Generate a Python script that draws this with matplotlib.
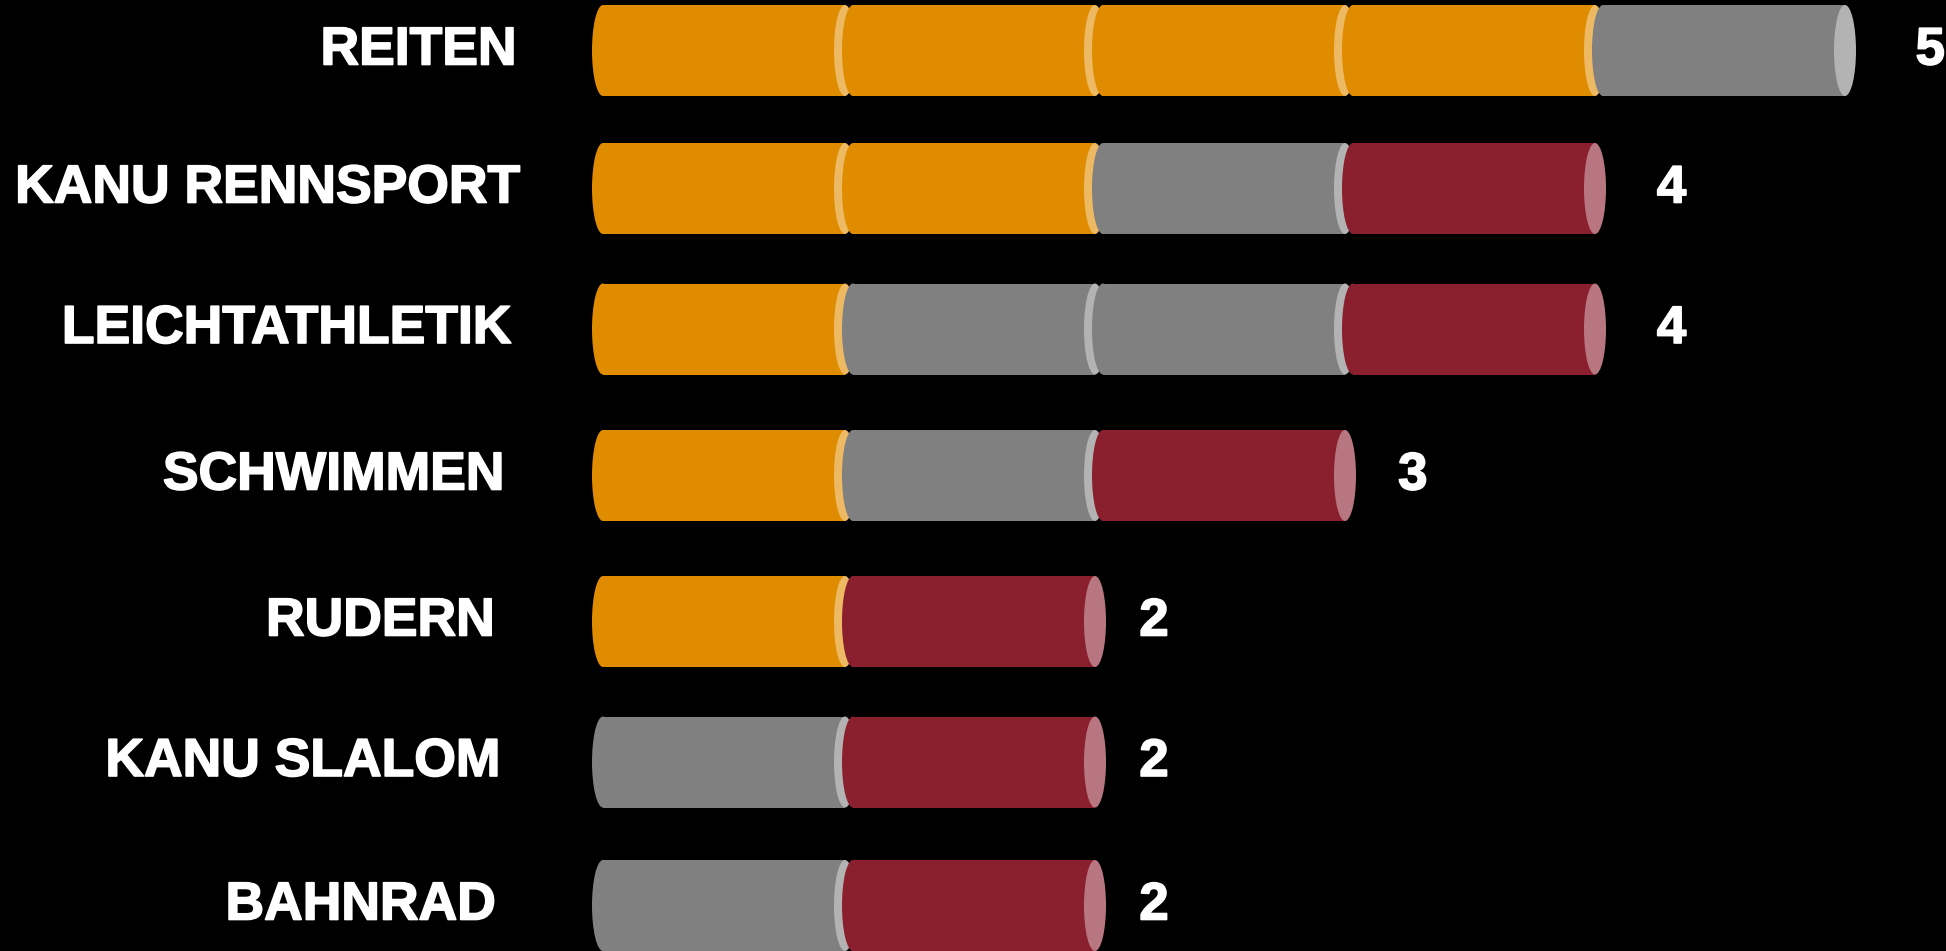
import matplotlib
matplotlib.use("Agg")
import matplotlib.pyplot as plt
from matplotlib.patches import Rectangle, Ellipse
import matplotlib.patheffects as pe

#dados
sportarten = ['REITEN', 'KANU RENNSPORT', 'LEICHTATHLETIK', 'SCHWIMMEN',
              'RUDERN', 'KANU SLALOM', 'BAHNRAD']
gold = [4, 2, 1, 1, 1, 0, 0]
silber = [1, 1, 2, 1, 0, 1, 1]
bronze = [0, 1, 1, 1, 1, 1, 1]

#layout: centro de cada linha e borda direita dos rotulos (pixels)
linha_px = [50.5, 188.5, 329, 475.5, 621.5, 762, 905.5]
rotulo_px = [517, 521, 512, 505, 495, 501, 496]

#cores (corpo, tampa)
farben = {
    'gold': ('#df8c00', '#edb963'),
    'silber': ('#808080', '#b3b3b3'),
    'bronze': ('#8a1f2e', '#b87780'),
}

#figura
fig = plt.figure(figsize=(19.46, 9.51), dpi=100, facecolor='black')
ax = fig.add_axes([0, 0, 1, 1])
ax.set_facecolor('black')
ax.axis('off')
ax.set_xlim(-2.412, 5.372)
ax.set_ylim(951, 0)

hoehe = 91       # altura da barra
laenge = 0.968   # comprimento de cada cilindro
breite = 0.088   # largura da elipse
efeito = [pe.withStroke(linewidth=1.2, foreground='white')]

for i, nome in enumerate(sportarten):
    y = linha_px[i]
    medalhas = ['gold'] * gold[i] + ['silber'] * silber[i] + ['bronze'] * bronze[i]
    for k, m in enumerate(medalhas):
        corpo, tampa = farben[m]
        ax.add_patch(Rectangle((k, y - hoehe / 2), laenge, hoehe,
                               facecolor=corpo, edgecolor='none'))
        ax.add_patch(Ellipse((k, y), breite, hoehe, facecolor=corpo, edgecolor='none'))
        ax.add_patch(Ellipse((k + laenge, y), breite, hoehe, facecolor=tampa,
                             edgecolor='none'))

    total = len(medalhas)
    ax.text((rotulo_px[i] - 603) / 250, y, nome, ha='right', va='center', fontsize=38.5,
            fontweight='bold', color='white', family='Liberation Sans',
            path_effects=efeito)
    ax.text(0.134 + 1.035 * total, y, str(total), ha='center', va='center',
            fontsize=38, fontweight='bold', color='white', family='Liberation Sans',
            path_effects=efeito)

fig.savefig('out.png', dpi=100, facecolor='black')
